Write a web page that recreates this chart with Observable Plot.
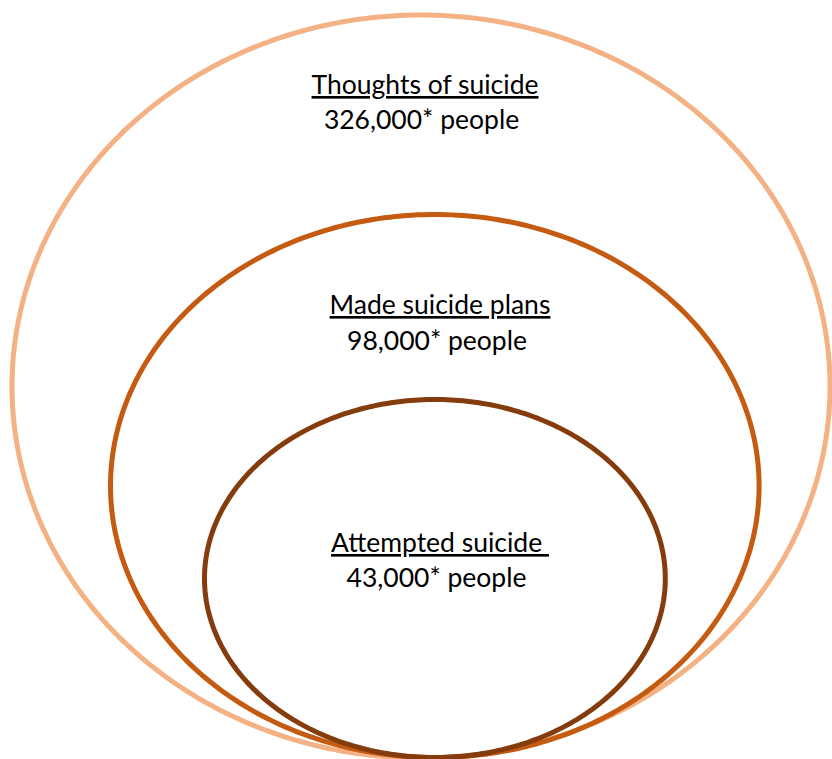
<!DOCTYPE html>
<html>
<head>
<meta charset="utf-8">
<script src="https://cdn.jsdelivr.net/npm/d3@7"></script>
<script src="https://cdn.jsdelivr.net/npm/@observablehq/plot@0.6"></script>
<style>
  html, body { margin: 0; padding: 0; background: #fff; }
  svg { display: block; }
  text.u { text-decoration: underline; white-space: pre; }
</style>
</head>
<body>
<div id="chart"></div>
<script>
// ---- data ----
const groups = ["Thoughts of suicide", "Made suicide plans", "Attempted suicide "];
const counts = ["326,000*", "98,000*", "43,000*"];
const unit = "people";

// ---- layout (pixel space of the 832x759 frame) ----
const W = 832, H = 759;
const ellipseCx = [420.5, 434.3, 434.4];
const ellipseCy = [386, 485.5, 578];
const ellipseRx = [409, 324.3, 230.4];
const ellipseRy = [371.5, 271.5, 179];
const colors = ["#F4B183", "#C55A11", "#843C0C"];
const titleX = [424.5, 439.5, 439.5];
const titleY = [85, 305, 543];
const countX = [421, 436.5, 436];
const countY = [120, 341, 578];

// Build ellipse outlines (geometry only)
const outline = [];
groups.forEach((g, i) => {
  const n = 360;
  for (let k = 0; k < n; k++) {
    const t = (k / n) * 2 * Math.PI;
    outline.push({
      group: g,
      x: ellipseCx[i] + ellipseRx[i] * Math.sin(t),
      y: ellipseCy[i] + ellipseRy[i] * Math.cos(t)
    });
  }
});

const labels = groups.map((g, i) => ({ title: g, x: titleX[i], y: titleY[i] }));
const values = counts.map((c, i) => ({ text: `${c} ${unit}`, x: countX[i], y: countY[i] }));

const font = "Lato, Carlito, Calibri, sans-serif";

const plot = Plot.plot({
  width: W,
  height: H,
  margin: 0,
  x: { domain: [0, W], range: [0, W], axis: null },
  y: { domain: [0, H], range: [0, H], axis: null },
  style: { background: "#fff" },
  marks: [
    ...groups.map((g, i) =>
      Plot.line(outline.filter(d => d.group === g), {
        x: "x", y: "y", stroke: colors[i], strokeWidth: 5, curve: "linear-closed"
      })
    ),
    Plot.text(labels, {
      x: "x", y: "y", text: "title", fontSize: 26.5, fill: "#000",
      fontFamily: font, textAnchor: "middle"
    }),
    Plot.text(values, {
      x: "x", y: "y", text: "text", fontSize: 26.5, fill: "#000",
      fontFamily: font, textAnchor: "middle"
    })
  ]
});

d3.select(plot).selectAll("text")
  .filter(function () { return groups.includes(this.textContent); })
  .classed("u", true)
  .attr("text-decoration", "underline")
  .style("text-decoration", "underline")
  .style("white-space", "pre");

document.getElementById("chart").appendChild(plot);
</script>
</body>
</html>
